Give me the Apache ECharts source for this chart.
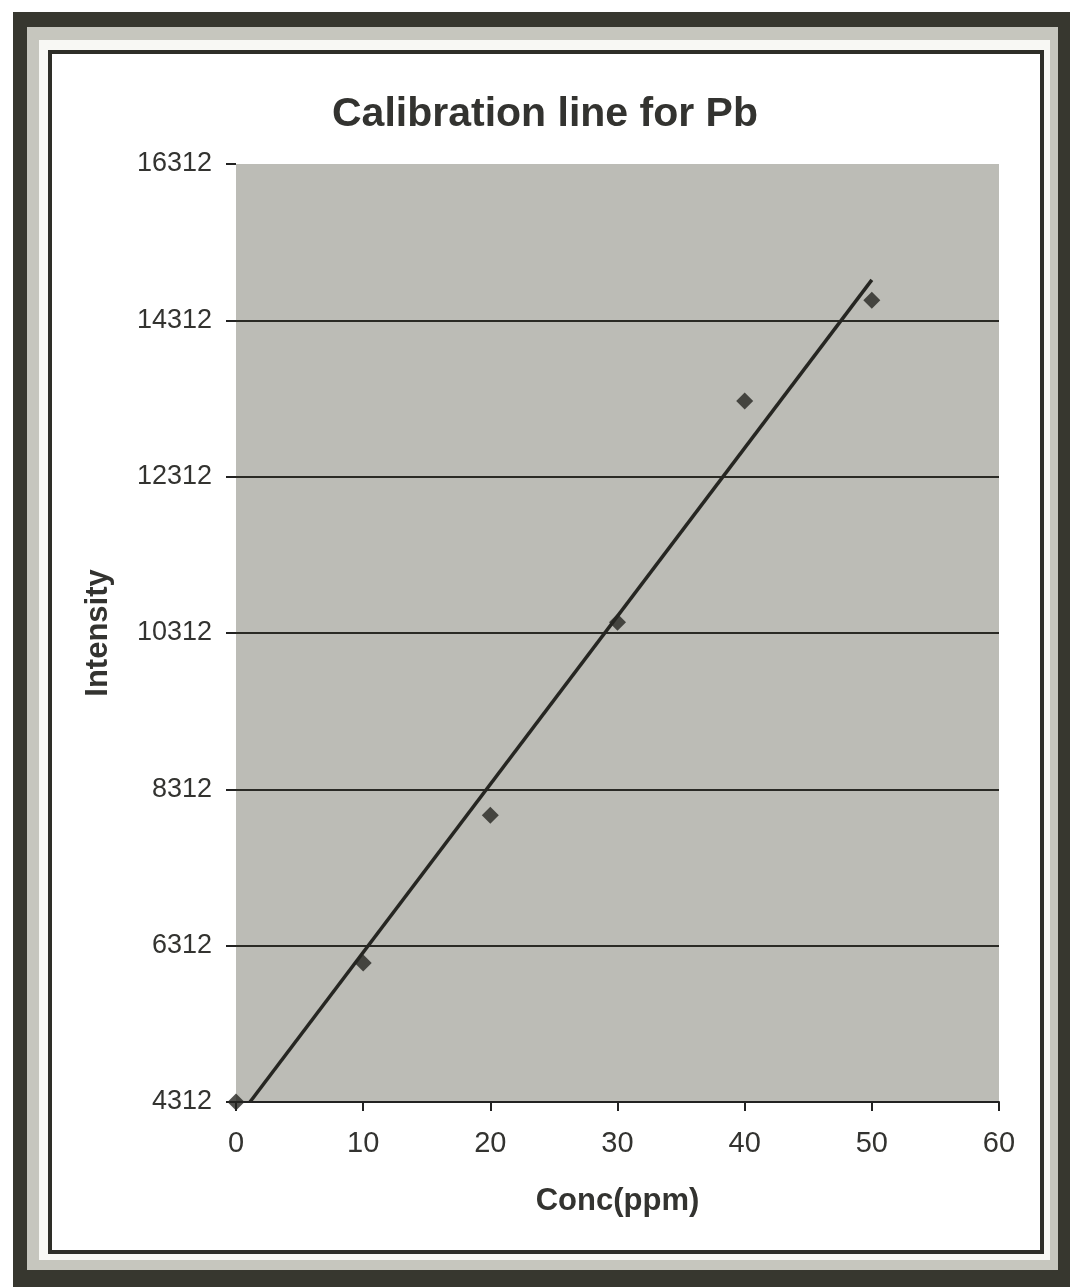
<!DOCTYPE html>
<html>
<head>
<meta charset="utf-8">
<script src="https://cdn.jsdelivr.net/npm/echarts@6/dist/echarts.min.js"></script>
<style>
html,body{margin:0;padding:0;background:#fff;}
#chart{width:1070px;height:1287px;}
</style>
</head>
<body>
<div id="chart"></div>
<script>
// Data
var concPpm = [0, 10, 20, 30, 40, 50];
var intensity = [4312, 6090, 7980, 10450, 13280, 14570];
// Trendline endpoints as drawn in the picture
var trendX = [1.1, 50];
var trendY = [4312, 14830];
var yTicks = [4312, 6312, 8312, 10312, 12312, 14312, 16312];
var xTicks = [0, 10, 20, 30, 40, 50, 60];

var chart = echarts.init(document.getElementById('chart'));
var ink = '#333330';
var font = '"Liberation Sans", Arial, sans-serif';

var points = concPpm.map(function (x, i) { return [x, intensity[i]]; });
var trend = trendX.map(function (x, i) { return [x, trendY[i]]; });

chart.setOption({
  backgroundColor: '#ffffff',
  animation: false,
  graphic: [
    { type: 'rect', z: -10, shape: { x: 13, y: 12, width: 1057, height: 1275 }, style: { fill: '#37372f' } },
    { type: 'rect', z: -9, shape: { x: 27, y: 27, width: 1031, height: 1243 }, style: { fill: '#c6c6be' } },
    { type: 'rect', z: -8, shape: { x: 39, y: 40, width: 1011, height: 1220 }, style: { fill: '#f8f8f4' } },
    { type: 'rect', z: -7, shape: { x: 50, y: 52, width: 992, height: 1200 }, style: { fill: '#ffffff', stroke: '#2e2e28', lineWidth: 4 } }
  ],
  title: {
    text: 'Calibration line for Pb',
    left: 540,
    top: 89,
    textAlign: 'center',
    textStyle: { fontFamily: font, fontSize: 41, fontWeight: 'bold', color: ink }
  },
  grid: {
    left: 236, right: 71, top: 164, bottom: 185,
    show: true, backgroundColor: '#bcbcb6', borderWidth: 0
  },
  xAxis: {
    type: 'value',
    min: xTicks[0], max: xTicks[xTicks.length - 1], interval: 10,
    name: 'Conc(ppm)',
    nameLocation: 'middle',
    nameGap: 84,
    nameTextStyle: { fontFamily: font, fontSize: 31, fontWeight: 'bold', color: ink },
    axisLine: { show: true, lineStyle: { color: '#222', width: 2 } },
    axisTick: { show: true, length: 9, lineStyle: { color: '#222', width: 2 } },
    axisLabel: { fontFamily: font, fontSize: 29, color: ink, margin: 27 },
    splitLine: { show: false }
  },
  yAxis: {
    type: 'value',
    min: yTicks[0], max: yTicks[yTicks.length - 1], interval: 2000,
    name: 'Intensity',
    nameLocation: 'middle',
    nameGap: 122,
    nameRotate: 90,
    nameTextStyle: { fontFamily: font, fontSize: 31, fontWeight: 'bold', color: ink },
    axisLine: { show: false },
    axisTick: { show: true, length: 10, lineStyle: { color: '#222', width: 2 } },
    axisLabel: {
      fontFamily: font, fontSize: 27, color: ink, margin: 24,
      formatter: function (v) { return String(v); }
    },
    splitLine: { show: true, showMaxLine: false, lineStyle: { color: '#2a2a25', width: 2 } }
  },
  series: [
    {
      type: 'line',
      data: trend,
      showSymbol: false,
      symbol: 'none',
      lineStyle: { color: '#262622', width: 3.5 },
      z: 3
    },
    {
      type: 'scatter',
      data: points,
      symbol: 'diamond',
      symbolSize: 17,
      itemStyle: { color: '#262622' },
      clip: false,
      z: 4
    }
  ]
});
</script>
</body>
</html>
